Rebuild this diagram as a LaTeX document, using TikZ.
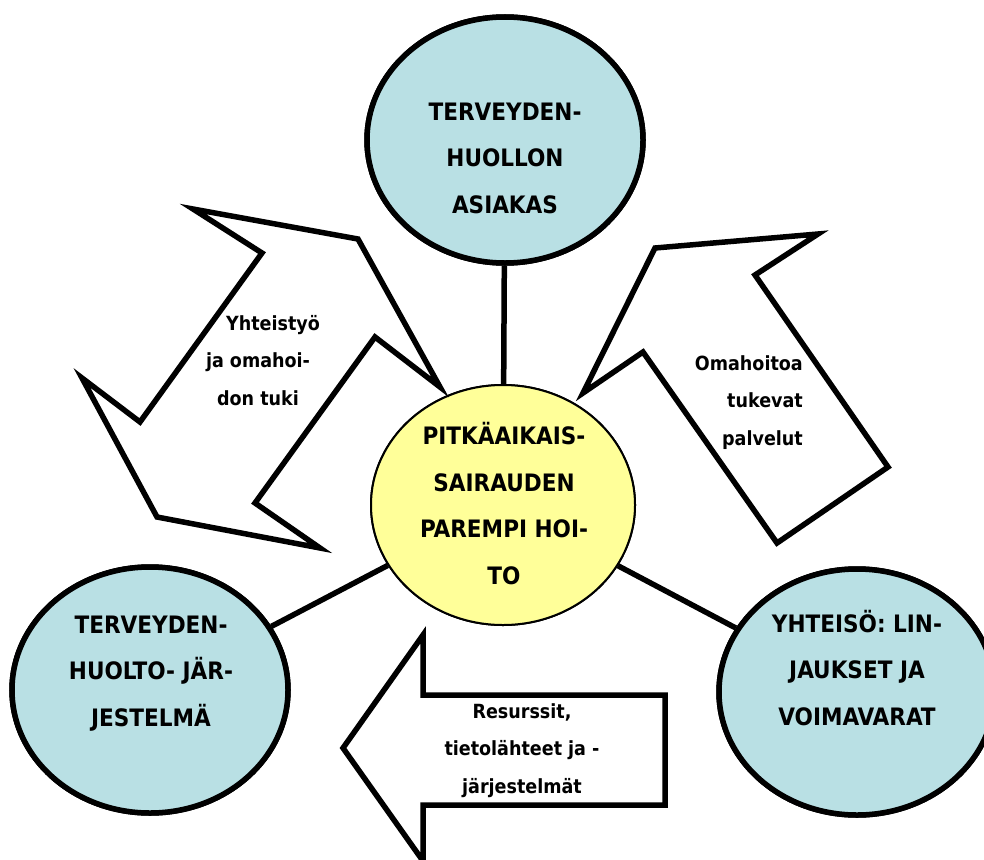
\documentclass[tikz,border=0pt]{standalone}
\usepackage{fontspec}
\setmainfont{DejaVu Sans Condensed}
\usetikzlibrary{shapes.geometric}
\definecolor{bubble}{RGB}{185,224,228}
\definecolor{core}{RGB}{255,255,153}
\tikzset{
  bubble/.style={ellipse, draw=black, line width=5.5pt, fill=bubble, inner sep=0pt, minimum width=276pt, minimum height=246pt},
  corenode/.style={ellipse, draw=black, line width=2pt, fill=core, inner sep=0pt, minimum width=264pt, minimum height=240pt},
  conn/.style={line width=5.5pt},
  bigarrow/.style={draw=black, line width=5.5pt, fill=white, line join=miter},
  captxt/.style={font=\bfseries\fontsize{24}{46.5}\selectfont, align=center, inner sep=0pt, anchor=base},
  smalltxt/.style={font=\bfseries\fontsize{19.5}{37.5}\selectfont, inner sep=0pt, anchor=base}
}
\begin{document}
\begin{tikzpicture}[x=1pt,y=-1pt]
\clip (0,0) rectangle (984,859);
\fill[white] (0,0) rectangle (984,859);
% circles (placed first so connectors can refer to them)
\node[bubble] (client) at (505,140) {};
\node[corenode] (care) at (503,505) {};
\node[bubble] (system) at (150,690) {};
\node[bubble] (community) at (857,692) {};
% connectors
\draw[conn] (client) -- (care);
\draw[conn] (system) -- (care);
\draw[conn] (community) -- (care);
% redraw circles on top of the connectors
\node[bubble] at (client) {};
\node[corenode] at (care) {};
\node[bubble] at (system) {};
\node[bubble] at (community) {};
% arrows
\draw[bigarrow] (193,209) -- (358,239) -- (440,387) -- (375,337) -- (255,503) -- (320,548) -- (157,517) -- (82,378) -- (140,422) -- (262,253) -- cycle;
\draw[bigarrow] (655,248) -- (818,234) -- (755,275) -- (888,467) -- (777,543) -- (643,352) -- (583,393) -- cycle;
\draw[bigarrow] (343,748) -- (423,635) -- (423,695) -- (665,695) -- (665,805) -- (423,805) -- (423,861) -- cycle;
% texts (anchor base = baseline of the last line)
\node[captxt] (tclient) at (505,213) {TERVEYDEN-\\HUOLLON\\ASIAKAS};
\node[captxt] (tcare) at (504,584) {PITKÄAIKAIS-\\SAIRAUDEN\\PAREMPI HOI-\\TO};
\node[captxt] (tsystem) at (151,726) {TERVEYDEN-\\HUOLTO- JÄR-\\JESTELMÄ};
\node[captxt] (tcommunity) at (857,725) {YHTEISÖ: LIN-\\JAUKSET JA\\VOIMAVARAT};
\node[smalltxt, align=center] (tcoop) at (258,405) {\hspace*{30pt}Yhteistyö\\ja omahoi-\\don tuki};
\node[smalltxt, align=right, anchor=base east] (tserv) at (803,445) {Omahoitoa\\tukevat\\palvelut};
\node[smalltxt, align=center] (tres) at (522,793) {Resurssit,\\tietolähteet ja -\\järjestelmät};
\end{tikzpicture}
\end{document}
